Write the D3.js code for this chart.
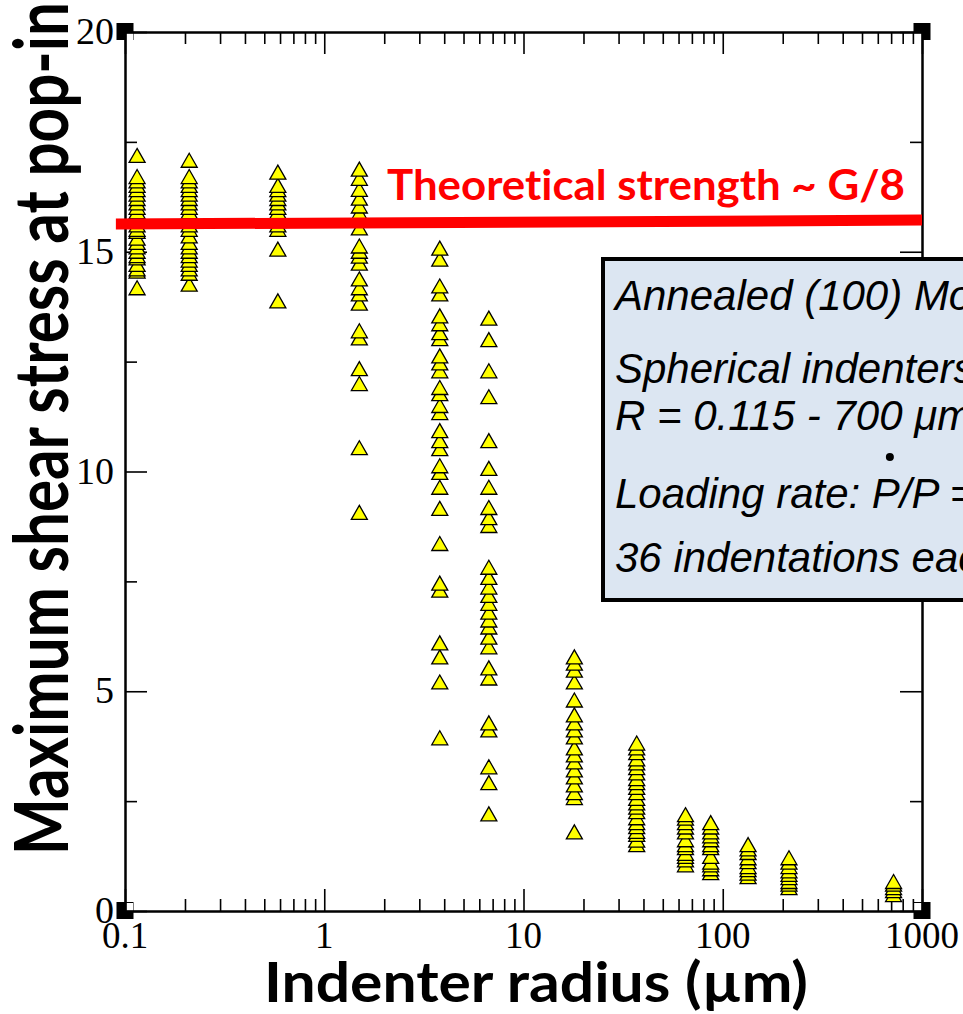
<!DOCTYPE html>
<html><head><meta charset="utf-8">
<script src="https://cdn.jsdelivr.net/npm/d3@7"></script>
<style>html,body{margin:0;padding:0;background:#fff;overflow:hidden} text{font-variant-ligatures:none}</style>
</head><body>
<svg id="chart" width="963" height="1014"></svg>
<script>
// ---- data ----
const radii = [0.115, 0.21, 0.585, 1.5, 3.8, 6.7, 18, 37, 65, 87, 134, 215, 720];
const stressR0115 = [17.18, 16.7, 16.6, 16.5, 16.4, 16.3, 16.2, 16.1, 16.0, 15.9, 15.8, 15.7, 15.6, 15.5, 15.45, 15.3, 15.2, 15.1, 15.0, 14.9, 14.85, 14.7, 14.6, 14.55, 14.17];
const stressR021 = [17.07, 16.7, 16.6, 16.5, 16.4, 16.3, 16.2, 16.1, 16.0, 15.9, 15.8, 15.6, 15.5, 15.35, 15.2, 15.1, 15.0, 14.9, 14.8, 14.7, 14.6, 14.5, 14.25];
const stressR0585 = [16.8, 16.5, 16.4, 16.3, 16.2, 16.1, 16.0, 15.9, 15.8, 15.7, 15.6, 15.5, 15.05, 13.87];
const stressR15 = [16.87, 16.66, 16.41, 16.21, 16.03, 15.87, 15.73, 15.53, 15.12, 15.0, 14.89, 14.73, 14.37, 14.17, 14.03, 13.82, 13.19, 13.03, 12.33, 11.99, 10.53, 9.06];
const stressR38 = [15.07, 14.82, 14.21, 14.03, 13.53, 13.35, 13.15, 13.01, 12.62, 12.46, 12.28, 11.9, 11.76, 11.49, 11.33, 10.92, 10.69, 10.51, 10.12, 9.97, 9.63, 9.15, 8.35, 7.45, 7.29, 6.09, 5.77, 5.2, 3.93];
const stressR67 = [13.48, 12.99, 12.28, 11.69, 10.69, 10.06, 9.63, 9.17, 8.94, 8.76, 7.81, 7.58, 7.36, 7.17, 6.99, 6.79, 6.61, 6.45, 6.22, 6.0, 5.52, 5.29, 4.27, 4.11, 3.27, 2.91, 2.2];
const stressR18 = [5.77, 5.63, 5.47, 5.2, 4.79, 4.45, 4.27, 4.11, 3.95, 3.7, 3.54, 3.38, 3.2, 3.04, 2.86, 2.68, 2.57, 1.79];
const stressR37 = [3.81, 3.7, 3.59, 3.45, 3.36, 3.25, 3.13, 3.0, 2.91, 2.8, 2.68, 2.55, 2.45, 2.35, 2.25, 2.11, 2.0, 1.91, 1.8, 1.73, 1.6, 1.5];
const stressR65 = [2.18, 2.1, 2.0, 1.9, 1.79, 1.61, 1.5, 1.43, 1.3, 1.23, 1.15, 1.04];
const stressR87 = [2.0, 1.9, 1.79, 1.7, 1.61, 1.5, 1.43, 1.23, 1.1, 1.04, 0.95, 0.86];
const stressR134 = [1.5, 1.4, 1.32, 1.2, 1.11, 1.0, 0.93, 0.85, 0.77];
const stressR215 = [1.2, 1.1, 1.0, 0.9, 0.82, 0.75, 0.66, 0.6, 0.52];
const stressR720 = [0.66, 0.6, 0.52, 0.45, 0.36];
const stressByRadius = [stressR0115, stressR021, stressR0585, stressR15, stressR38, stressR67, stressR18, stressR37, stressR65, stressR87, stressR134, stressR215, stressR720];

const xMajorTicks = [0.1, 1, 10, 100, 1000];
const xTickLabels = ["0.1", "1", "10", "100", "1000"];
const yMajorTicks = [0, 5, 10, 15, 20];
const yTickLabels = ["0", "5", "10", "15", "20"];
const yMinorTicks = [2.5, 7.5, 12.5, 17.5];

const theoryLineR = [0.09, 1000];
const theoryLineTau = [15.63, 15.72];
const theoryLabel = "Theoretical strength ~ G/8";
const boxLines = ["Annealed (100) Mo", "Spherical indenters", "R = 0.115 - 700 \u03bcm", "Loading rate: P/P =", "36 indentations each"];
const xTitle = "Indenter radius (\u00b5m)";
const yTitle = "Maximum shear stress at pop-in";

// ---- chart ----
const svg = d3.select("#chart");
const x = d3.scaleLog().domain([0.1, 1000]).range([125, 922]);
const y = d3.scaleLinear().domain([0, 20]).range([911, 32]);
const [x0, x1] = x.range();
const [y0, y1] = y.range();

const xMinor = [];
[0.1, 1, 10, 100].forEach(d => { for (let k = 2; k <= 9; k++) xMinor.push(d * k); });

// corner squares
[[x0, y1, 1, 1], [x1, y1, -1, 1], [x0, y0, 1, -1], [x1, y0, -1, -1]].forEach(([cx, cy, sx, sy]) => {
  svg.append("rect").attr("x", cx - 8.5).attr("y", cy - 9).attr("width", 17).attr("height", 17).attr("fill", "#000");
  svg.append("rect").attr("x", sx > 0 ? cx : cx - 8).attr("y", sy > 0 ? cy : cy - 8).attr("width", 8).attr("height", 8).attr("fill", "#fff");
});

function styleAxis(g) {
  g.select(".domain").attr("stroke", "#000").attr("stroke-width", 2);
  g.selectAll(".tick line").attr("stroke", "#000").attr("stroke-width", 1.6);
  g.selectAll(".tick text").remove();
}
const axisG = svg.append("g");
axisG.append("g").attr("transform", `translate(0,${y0})`).call(d3.axisBottom(x).tickValues(xMajorTicks).tickSize(-22).tickSizeOuter(0).tickFormat("")).call(styleAxis);
axisG.append("g").attr("transform", `translate(0,${y0})`).call(d3.axisBottom(x).tickValues(xMinor).tickSize(-12).tickSizeOuter(0).tickFormat("")).call(styleAxis);
axisG.append("g").attr("transform", `translate(0,${y1})`).call(d3.axisTop(x).tickValues(xMajorTicks).tickSize(-22).tickSizeOuter(0).tickFormat("")).call(styleAxis);
axisG.append("g").attr("transform", `translate(0,${y1})`).call(d3.axisTop(x).tickValues(xMinor).tickSize(-12).tickSizeOuter(0).tickFormat("")).call(styleAxis);
axisG.append("g").attr("transform", `translate(${x0},0)`).call(d3.axisLeft(y).tickValues(yMajorTicks).tickSize(-22).tickSizeOuter(0).tickFormat("")).call(styleAxis);
axisG.append("g").attr("transform", `translate(${x0},0)`).call(d3.axisLeft(y).tickValues(yMinorTicks).tickSize(-12).tickSizeOuter(0).tickFormat("")).call(styleAxis);
axisG.append("g").attr("transform", `translate(${x1},0)`).call(d3.axisRight(y).tickValues(yMajorTicks).tickSize(-22).tickSizeOuter(0).tickFormat("")).call(styleAxis);
axisG.append("g").attr("transform", `translate(${x1},0)`).call(d3.axisRight(y).tickValues(yMinorTicks).tickSize(-12).tickSizeOuter(0).tickFormat("")).call(styleAxis);

// tick labels
svg.append("g").selectAll("text").data(xMajorTicks).join("text")
  .attr("x", d => x(d)).attr("y", y0 + 37).attr("text-anchor", "middle")
  .attr("font-family", "Liberation Serif, serif").attr("font-size", 37).attr("fill", "#000")
  .text((d, i) => xTickLabels[i]);
svg.append("g").selectAll("text").data(yMajorTicks).join("text")
  .attr("x", x0 - 11).attr("y", d => y(d) + 12).attr("text-anchor", "end")
  .attr("font-family", "Liberation Serif, serif").attr("font-size", 38).attr("fill", "#000")
  .text((d, i) => yTickLabels[i]);

// points
const pts = [];
radii.forEach((r, i) => stressByRadius[i].forEach(t => pts.push({ r, t })));
pts.sort((a, b) => a.t - b.t);
const tri = "M0,-7.5L8,6.5L-8,6.5Z";
svg.append("g").selectAll("path").data(pts).join("path")
  .attr("d", tri).attr("transform", d => `translate(${x(d.r)},${y(d.t)})`)
  .attr("fill", "#ffff00").attr("stroke", "#000").attr("stroke-width", 1.3).attr("stroke-linejoin", "miter");

// theoretical strength line
svg.append("line")
  .attr("x1", x(theoryLineR[0])).attr("y1", y(theoryLineTau[0]))
  .attr("x2", x(theoryLineR[1])).attr("y2", y(theoryLineTau[1]))
  .attr("stroke", "#ff0000").attr("stroke-width", 11);
svg.append("text").attr("x", 387).attr("y", 200)
  .attr("font-family", "Lato, 'Open Sans', sans-serif").attr("font-weight", 700).attr("font-size", 42)
  .attr("fill", "#ff0000").attr("textLength", 518).attr("lengthAdjust", "spacingAndGlyphs")
  .text(theoryLabel);

// info box
svg.append("rect").attr("x", 603).attr("y", 259).attr("width", 420).attr("height", 341)
  .attr("fill", "#dce6f2").attr("stroke", "#000").attr("stroke-width", 4);
const baselines = [310, 383, 430, 508, 572];
const boxText = svg.append("g").selectAll("text").data(boxLines).join("text")
  .attr("x", 615).attr("y", (d, i) => baselines[i])
  .attr("font-family", "Liberation Sans, Arial, sans-serif").attr("font-style", "italic").attr("font-size", 42)
  .attr("fill", "#000").text(d => d);
const loadNode = boxText.nodes()[3];
const ext = loadNode.getExtentOfChar(14);
svg.append("circle").attr("cx", ext.x + ext.width / 2 + 4).attr("cy", baselines[3] - 51).attr("r", 4).attr("fill", "#000");

// axis titles
svg.append("text").attr("x", 264).attr("y", 1002)
  .attr("font-family", "Lato, 'Open Sans', sans-serif").attr("font-weight", 700).attr("font-size", 56)
  .attr("fill", "#000").attr("textLength", 544).attr("lengthAdjust", "spacingAndGlyphs")
  .text(xTitle);
svg.append("text").attr("transform", "translate(68,855) rotate(-90)")
  .attr("font-family", "Lato, 'Open Sans', sans-serif").attr("font-weight", 700).attr("font-size", 75)
  .attr("fill", "#000").attr("textLength", 853).attr("lengthAdjust", "spacingAndGlyphs")
  .text(yTitle);
</script>
</body></html>
